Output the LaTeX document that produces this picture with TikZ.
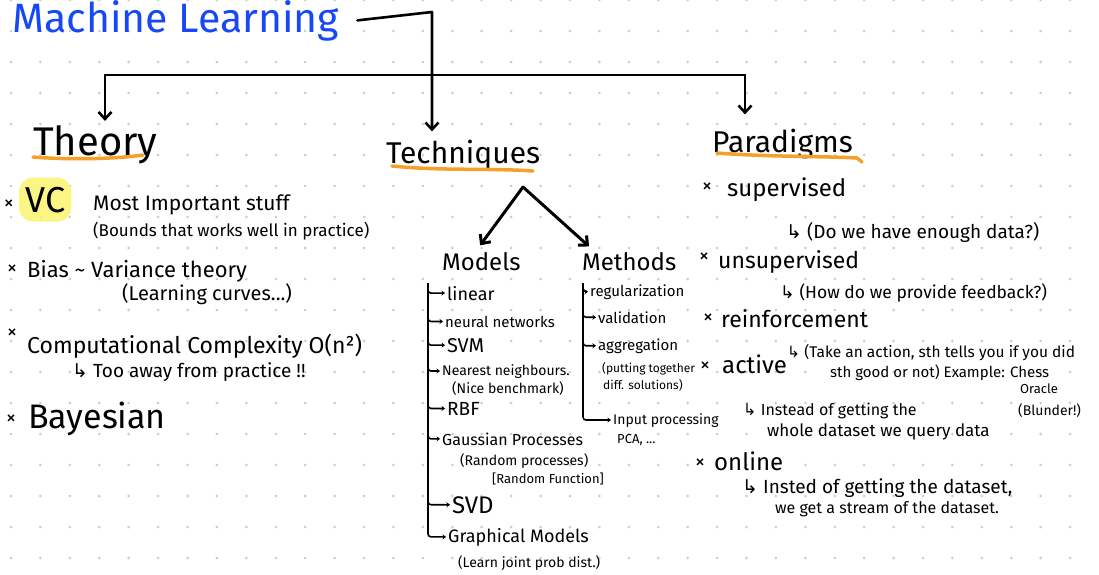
\documentclass[tikz,border=0pt]{standalone}
\usepackage{fontspec}
\setmainfont{Fira Sans}
\newfontfamily\arrowfont{DejaVu Sans}
\usetikzlibrary{
  arrows.meta,
  calc,
  fit,
  backgrounds
}
\definecolor{title_blue}{RGB}{22, 72, 245}
\definecolor{mark_orange}{RGB}{245, 160, 40}
\definecolor{hl_yellow}{RGB}{250, 244, 110}
\definecolor{dot_gray}{RGB}{205, 205, 205}
\newcommand{\hookarrow}{{\arrowfont ↳}}

\begin{document}
\begin{tikzpicture}[
    % Styles
    x=1pt, y=-1pt,
    >={Straight Barb[length=7pt,width=13pt]},
    line cap=round,
    line join=round,
    % Text
    title/.style={
        anchor=base west,
        inner sep=0pt,
        text=title_blue,
        font=\fontsize{41}{48}\selectfont
    },
    heading/.style={
        anchor=base west,
        inner sep=0pt,
        font=\fontsize{30}{36}\selectfont
    },
    txt/.style={
        anchor=base west,
        inner sep=0pt,
        font=\fontsize{#1}{#1}\selectfont
    },
    bullet/.style={
        inner sep=0pt,
        font=\fontsize{20}{20}\selectfont
    },
    % Lines
    trunk/.style={->, line width=2.6pt},
    branch/.style={->, line width=3pt, shorten >=8pt},
    hook/.style={
        -{Stealth[length=3.5pt,width=5pt]},
        line width=1.6pt,
        rounded corners=3pt,
        shorten >=2pt
    },
    underline/.style={mark_orange, line width=3.5pt}
]

\useasboundingbox (0,0) rectangle (1099,574);

% --- DOT GRID ---
\begin{scope}[on background layer]
    \foreach \i in {0,...,36}
        \foreach \j in {0,...,18}
            \fill[dot_gray] (11+\i*29.42, \j*31) circle (1.5);
\end{scope}

% --- LAYOUT ---

% 1. Title (Top Left)
\node[title] (ml) at (12,32) {Machine Learning};

% 2. Headings
\node[heading, font=\fontsize{40}{44}\selectfont] (theory) at (33,155) {Theory};
\node[heading] (tech) at (386,163) {Techniques};
\node[heading] (para) at (712,152) {Paradigms};

\draw[underline] (33,157) .. controls (70,160) and (115,159) .. (143,155);
\draw[underline] (392,166) .. controls (440,171) and (490,168) .. (533,171);
\draw[underline] (717,153) .. controls (770,157) and (820,156) .. (857,158) -- (862,162);

% Trunk and bar
\coordinate (corner) at (432,12);
\coordinate (barL) at (105,75);
\coordinate (barR) at (745,75);
\draw[trunk, shorten >=8pt] ([xshift=18pt]ml.east) -- (corner) -- (corner |- tech.north);
\draw[line width=2pt] (barL) -- (barR);
\draw[trunk, shorten >=4pt] (barL) -- (barL |- theory.north);
\draw[trunk, shorten >=14pt] (barR) -- (barR |- para.north);

% 3. Theory (Left)
\node[bullet] (xvc) at (9,205) {×};
\node[txt=36] (vc) at (25,212) {VC};
\begin{scope}[on background layer]
    \node[fill=hl_yellow, opacity=0.85, rounded corners=14pt, inner xsep=6pt, inner ysep=9pt, fit=(vc)] (vcmark) {};
\end{scope}
\node[txt=21] (vcnote) at (93,210) {Most Important stuff};
\node[txt=17] (vcnote2) at (93,236) {(Bounds that works well in practice)};

\node[bullet] (xbias) at (12,270) {×};
\node[txt=22] (bias) at (27,277) {Bias \textasciitilde\ Variance theory};
\node[txt=20] (biasnote) at (122,300) {(Learning curves...)};

\node[bullet] (xcomp) at (12,334) {×};
\node[txt=23] (comp) at (27,353) {Computational Complexity O(n²)};
\node[txt=19] (compnote) at (72,377) {\hookarrow\ Too away from practice !!};

\node[bullet] (xbayes) at (11,420) {×};
\node[txt=34] (bayes) at (28,428) {Bayesian};

% 4. Techniques (Center)
\coordinate (fork) at (523,187);
\node[txt=24] (models) at (442,270) {Models};
\node[txt=24] (methods) at (582,270) {Methods};
\draw[branch] (fork) -- ([xshift=-6pt]models.north);
\draw[branch] (fork) -- ([xshift=13pt]methods.north west);

% Models list
\coordinate (mbar) at (428,284);
\node[txt=18] (linear) at (447,300) {linear};
\node[txt=15] (nn) at (445,327) {neural networks};
\node[txt=20] (svm) at (447,352) {SVM};
\node[txt=14] (knn) at (442,375) {Nearest neighbours.};
\node[txt=14] (knnnote) at (452,393) {(Nice benchmark)};
\node[txt=19] (rbf) at (447,415) {RBF};
\node[txt=16] (gp) at (442,445) {Gaussian Processes};
\node[txt=14] (gpnote) at (460,465) {(Random processes)};
\node[txt=13] (gpnote2) at (492,483) {[Random Function]};
\node[txt=24] (svd) at (452,513) {SVD};
\node[txt=18] (gm) at (448,542) {Graphical Models};
\node[txt=14] (gmnote) at (458,567) {(Learn joint prob dist.)};
\foreach \n in {linear,nn,svm,knn,rbf,gp,svd,gm}
    \draw[hook] (mbar) |- (\n.west);

% Methods list
\coordinate (dbar) at (583,284);
\node[txt=15] (reg) at (590,296) {regularization};
\node[txt=15] (valid) at (598,323) {validation};
\node[txt=15] (aggr) at (598,350) {aggregation};
\node[txt=12] (aggrnote) at (602,372) {(putting together};
\node[txt=12] (aggrnote2) at (603,389) {diff. solutions)};
\node[txt=14] (inproc) at (613,424) {Input processing};
\node[txt=13] (pca) at (617,443) {PCA, ...};
\foreach \n in {reg,valid,aggr,inproc}
    \draw[hook] (dbar) |- (\n.west);

% 5. Paradigms (Right)
\node[bullet] (xsup) at (707,188) {×};
\node[txt=24] (sup) at (727,196) {supervised};
\node[txt=19] (supnote) at (786,238) {\hookarrow\ (Do we have enough data?)};

\node[bullet] (xuns) at (704,258) {×};
\node[txt=23] (uns) at (718,268) {unsupervised};
\node[txt=17.5] (unsnote) at (780,298) {\hookarrow\ (How do we provide feedback?)};

\node[bullet] (xrein) at (708,319) {×};
\node[txt=23] (rein) at (721,327) {reinforcement};
\node[txt=15.5] (reinnote) at (787,357) {\hookarrow\ (Take an action, sth tells you if you did};
\node[txt=15] (reinnote2) at (830,377) {sth good or not) Example: Chess};
\node[txt=13] (oracle) at (1020,393) {Oracle};
\node[txt=14] (blunder) at (1018,415) {(Blunder!)};

\node[bullet] (xact) at (705,367) {×};
\node[txt=24] (act) at (722,373) {active};
\node[txt=16] (actnote) at (743,415) {\hookarrow\ Instead of getting the};
\node[txt=17] (actnote2) at (767,436) {whole dataset we query data};

\node[bullet] (xonl) at (700,464) {×};
\node[txt=24] (onl) at (714,470) {online};
\node[txt=19] (onlnote) at (742,493) {\hookarrow\ Insted of getting the dataset,};
\node[txt=16] (onlnote2) at (775,513) {we get a stream of the dataset.};

\end{tikzpicture}
\end{document}
